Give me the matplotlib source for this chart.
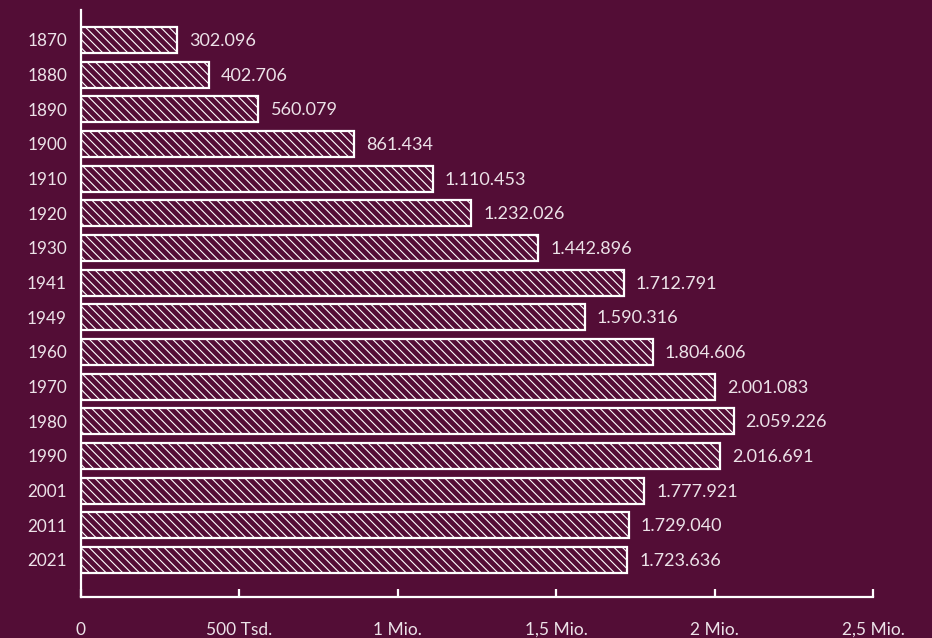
import matplotlib.pyplot as plt

years = ['1870', '1880', '1890', '1900', '1910', '1920', '1930', '1941',
         '1949', '1960', '1970', '1980', '1990', '2001', '2011', '2021']
population = [302096, 402706, 560079, 861434, 1110453, 1232026, 1442896, 1712791,
              1590316, 1804606, 2001083, 2059226, 2016691, 1777921, 1729040, 1723636]
xticks = [0, 500000, 1000000, 1500000, 2000000, 2500000]
xtick_labels = ['0', '500 Tsd.', '1 Mio.', '1,5 Mio.', '2 Mio.', '2,5 Mio.']

bg = '#530d36'
fg = '#ece2e8'

plt.rcParams['font.family'] = ['Lato', 'DejaVu Sans']
plt.rcParams['hatch.linewidth'] = 0.8

fig = plt.figure(figsize=(9.32, 6.38), dpi=100, facecolor=bg)
ax = fig.add_axes([0.0869, 0.0643, 0.85, 0.92], facecolor=bg)

pos = list(range(len(years)))
ax.barh(pos, population, height=0.75, color=bg, edgecolor='white',
        linewidth=1.6, hatch='\\\\\\\\')

for p, v in zip(pos, population):
    label = f'{v:,}'.replace(',', '.')
    ax.text(v + 38000, p + 0.03, label, va='center', ha='left', color=fg, fontsize=13)

ax.set_xlim(0, 2500000)
ax.set_ylim(16.07, -0.86)
ax.set_yticks(pos)
ax.set_yticklabels(years)
ax.set_xticks(xticks)
ax.set_xticklabels(xtick_labels)

for side in ['top', 'right']:
    ax.spines[side].set_visible(False)
for side in ['left', 'bottom']:
    ax.spines[side].set_color('white')
    ax.spines[side].set_linewidth(1.6)

ax.tick_params(axis='x', direction='in', length=6, width=1.6, color='white',
               pad=18, labelcolor=fg, labelsize=12.5)
ax.tick_params(axis='y', length=0, pad=10, labelcolor=fg, labelsize=12.3)

fig.savefig('out.png', dpi=100, facecolor=bg)
